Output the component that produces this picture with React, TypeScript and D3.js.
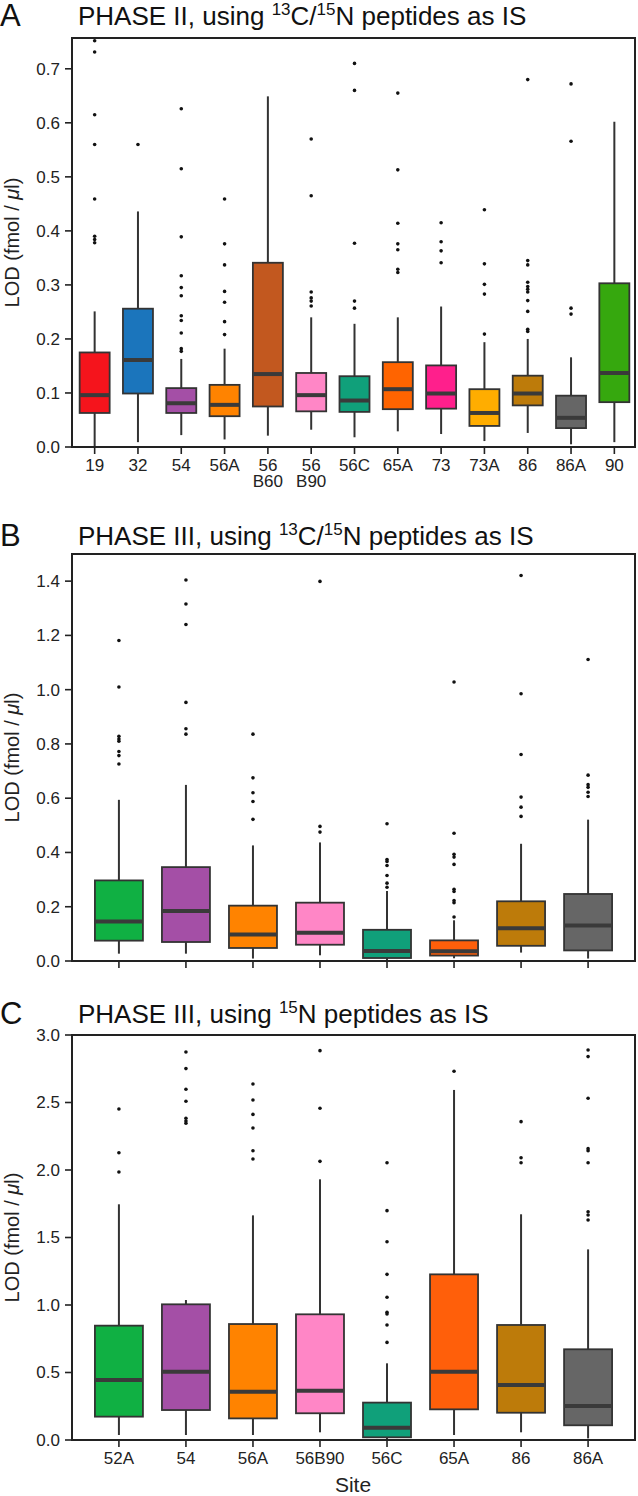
import React from "react";
import * as d3 from "d3";

// ---------- Panel A data ----------
const catsA = ["19", "32", "54", "56A", "56\nB60", "56\nB90", "56C", "65A", "73", "73A", "86", "86A", "90"];
const colorsA = ["#f5141c", "#1b75bc", "#a44fa6", "#ff8300", "#c2581f", "#ff86c6", "#10a07a", "#ff6400", "#ff1f8c", "#ffad00", "#bd7b0a", "#666666", "#36a80e"];
const q1A = [0.063, 0.099, 0.063, 0.057, 0.075, 0.066, 0.065, 0.070, 0.071, 0.039, 0.077, 0.035, 0.083];
const medA = [0.096, 0.161, 0.081, 0.078, 0.135, 0.096, 0.086, 0.107, 0.099, 0.063, 0.099, 0.054, 0.137];
const q3A = [0.175, 0.256, 0.109, 0.115, 0.341, 0.137, 0.131, 0.157, 0.151, 0.107, 0.132, 0.095, 0.303];
const loA = [0.0, 0.009, 0.022, 0.014, 0.021, 0.032, 0.018, 0.029, 0.024, 0.011, 0.026, 0.005, 0.009];
const hiA = [0.251, 0.436, 0.163, 0.182, 0.649, 0.240, 0.228, 0.240, 0.260, 0.194, 0.200, 0.166, 0.602];
const outA = [
  [0.752, 0.731, 0.615, 0.560, 0.459, 0.390, 0.384, 0.378],
  [0.560],
  [0.626, 0.515, 0.389, 0.317, 0.295, 0.280, 0.243, 0.234, 0.211, 0.182, 0.177],
  [0.459, 0.376, 0.337, 0.288, 0.268, 0.232, 0.208],
  [],
  [0.570, 0.465, 0.287, 0.276, 0.270, 0.261],
  [0.710, 0.660, 0.377, 0.270, 0.257],
  [0.655, 0.513, 0.414, 0.376, 0.365, 0.329, 0.323],
  [0.415, 0.380, 0.363, 0.341],
  [0.439, 0.339, 0.301, 0.283, 0.209],
  [0.680, 0.345, 0.337, 0.305, 0.297, 0.292, 0.287, 0.271, 0.251, 0.218, 0.214],
  [0.672, 0.566, 0.257, 0.246],
  [],
];
const ticksA = [0, 0.1, 0.2, 0.3, 0.4, 0.5, 0.6, 0.7];

// ---------- Panels B / C shared ----------
const catsBC = ["52A", "54", "56A", "56B90", "56C", "65A", "86", "86A"];
const colorsBC = ["#10b043", "#a44fa6", "#ff8300", "#ff86c6", "#10a07a", "#ff5f0a", "#bd7b0a", "#666666"];

// ---------- Panel B data ----------
const q1B = [0.075, 0.070, 0.048, 0.060, 0.011, 0.020, 0.056, 0.039];
const medB = [0.146, 0.184, 0.098, 0.104, 0.037, 0.036, 0.121, 0.131];
const q3B = [0.297, 0.346, 0.204, 0.215, 0.115, 0.076, 0.220, 0.247];
const loB = [0.027, 0.027, 0.009, 0.021, 0.0, 0.010, 0.031, 0.009];
const hiB = [0.594, 0.649, 0.426, 0.437, 0.258, 0.150, 0.432, 0.521];
const outB = [
  [1.181, 1.010, 0.828, 0.818, 0.810, 0.772, 0.757, 0.726],
  [1.404, 1.316, 1.240, 0.953, 0.856, 0.836],
  [0.836, 0.675, 0.620, 0.588, 0.522],
  [1.399, 0.496, 0.475],
  [0.506, 0.374, 0.367, 0.352, 0.315, 0.287, 0.272],
  [1.028, 0.471, 0.393, 0.383, 0.356, 0.264, 0.256, 0.223, 0.215, 0.162],
  [1.421, 0.985, 0.761, 0.604, 0.567, 0.533],
  [1.111, 0.685, 0.650, 0.640, 0.622, 0.606],
];
const ticksB = [0, 0.2, 0.4, 0.6, 0.8, 1.0, 1.2, 1.4];

// ---------- Panel C data ----------
const q1C = [0.173, 0.222, 0.160, 0.198, 0.020, 0.227, 0.202, 0.109];
const medC = [0.444, 0.506, 0.358, 0.365, 0.091, 0.506, 0.407, 0.252];
const q3C = [0.847, 1.005, 0.859, 0.931, 0.277, 1.227, 0.852, 0.672];
const loC = [0.037, 0.037, 0.037, 0.057, 0.0, 0.037, 0.057, 0.012];
const hiC = [1.746, 1.037, 1.664, 1.931, 0.568, 2.593, 1.672, 1.412];
const outC = [
  [2.452, 2.128, 1.985],
  [2.874, 2.751, 2.598, 2.509, 2.383, 2.363, 2.346],
  [2.637, 2.519, 2.412, 2.311, 2.143, 2.081],
  [2.884, 2.457, 2.064],
  [2.054, 1.699, 1.469, 1.227, 1.057, 0.946, 0.933, 0.852, 0.723],
  [2.731],
  [2.358, 2.091, 2.054],
  [2.889, 2.840, 2.531, 2.158, 2.143, 2.054, 1.691, 1.667, 1.630],
];
const ticksC = [0, 0.5, 1.0, 1.5, 2.0, 2.5, 3.0];

const FONT = "'Liberation Sans', Arial, Helvetica, sans-serif";
const INK = "#222";

type PanelProps = {
  letter: string;
  titleMain: string;
  titleParts: { sup?: string; text: string }[];
  titleY: number;
  top: number;
  bottom: number;
  yMax: number;
  ticks: number[];
  tickFmt: (v: number) => string;
  cats: string[];
  colors: string[];
  q1: number[];
  med: number[];
  q3: number[];
  lo: number[];
  hi: number[];
  outs: number[][];
  band: boolean;
  boxW: number;
  showLabels: boolean;
};

const LEFT = 72;
const RIGHT = 635;

function Panel(p: PanelProps) {
  const y = d3.scaleLinear().domain([0, p.yMax]).range([p.bottom, p.top]);
  let xc: (c: string) => number;
  if (p.band) {
    const xb = d3.scaleBand<string>().domain(p.cats).range([73, 636]).padding(0);
    xc = (c) => (xb(c) as number) + xb.bandwidth() / 2;
  } else {
    const xp = d3.scalePoint<string>().domain(p.cats).range([LEFT, RIGHT]).padding(0.7);
    xc = (c) => xp(c) as number;
  }
  const midY = (p.top + p.bottom) / 2;
  return (
    <g>
      <text x={0} y={p.titleY + 1} fontSize={31} fontFamily={FONT} fill="#111">{p.letter}</text>
      <text x={78} y={p.titleY} fontSize={26} fontFamily={FONT} fill="#111">
        <tspan>{p.titleMain}</tspan>
        {p.titleParts.map((t, i) => (
          <React.Fragment key={i}>
            {t.sup ? <tspan fontSize={17} dy={-10}>{t.sup}</tspan> : null}
            <tspan dy={t.sup ? 10 : 0}>{t.text}</tspan>
          </React.Fragment>
        ))}
      </text>
      {/* y axis label */}
      <text
        transform={`translate(19,${midY}) rotate(-90)`}
        textAnchor="middle"
        fontSize={20}
        fontFamily={FONT}
        fill={INK}
      >
        LOD (fmol / <tspan fontStyle="italic">μ</tspan>l)
      </text>
      {/* y ticks */}
      {p.ticks.map((t) => (
        <g key={t}>
          <line x1={LEFT - 7} x2={LEFT} y1={y(t)} y2={y(t)} stroke={INK} strokeWidth={1.6} />
          <text x={LEFT - 12} y={y(t)} dy="0.35em" textAnchor="end" fontSize={17} fontFamily={FONT} fill={INK}>
            {p.tickFmt(t)}
          </text>
        </g>
      ))}
      {/* boxes */}
      {p.cats.map((c, i) => {
        const cx = xc(c);
        const w = p.boxW;
        return (
          <g key={c}>
            <line x1={cx} x2={cx} y1={p.bottom} y2={p.bottom + 7} stroke={INK} strokeWidth={1.6} />
            <line x1={cx} x2={cx} y1={y(p.lo[i])} y2={y(p.q1[i])} stroke="#333" strokeWidth={2} />
            <line x1={cx} x2={cx} y1={y(p.q3[i])} y2={y(p.hi[i])} stroke="#333" strokeWidth={2} />
            <rect
              x={cx - w / 2}
              width={w}
              y={y(p.q3[i])}
              height={y(p.q1[i]) - y(p.q3[i])}
              fill={p.colors[i]}
              stroke="#333"
              strokeWidth={1.8}
            />
            <line x1={cx - w / 2} x2={cx + w / 2} y1={y(p.med[i])} y2={y(p.med[i])} stroke="#3a3a3a" strokeWidth={4} />
            {p.outs[i].map((v, j) => (
              <circle key={j} cx={cx} cy={y(v)} r={1.8} fill="#111" />
            ))}
            {p.showLabels
              ? c.split("\n").map((ln, k) => (
                  <text key={k} x={cx} y={p.bottom + 24 + k * 16} textAnchor="middle" fontSize={17} fontFamily={FONT} fill={INK}>
                    {ln}
                  </text>
                ))
              : null}
          </g>
        );
      })}
      {/* frame */}
      <rect x={LEFT} y={p.top} width={RIGHT - LEFT} height={p.bottom - p.top} fill="none" stroke={INK} strokeWidth={2} />
    </g>
  );
}

export default function App() {
  const f1 = d3.format(".1f");
  return (
    <svg
      width={638}
      height={1496}
      viewBox="0 0 638 1496"
      style={{ position: "absolute", left: 0, top: 0, background: "#fff" }}
    >
      <rect x={0} y={0} width={638} height={1496} fill="#fff" />
      <Panel
        letter="A"
        titleMain="PHASE II, using "
        titleParts={[{ sup: "13", text: "C/" }, { sup: "15", text: "N peptides as IS" }]}
        titleY={25}
        top={38}
        bottom={447}
        yMax={0.757}
        ticks={ticksA}
        tickFmt={f1}
        cats={catsA}
        colors={colorsA}
        q1={q1A}
        med={medA}
        q3={q3A}
        lo={loA}
        hi={hiA}
        outs={outA}
        band={true}
        boxW={30}
        showLabels={true}
      />
      <Panel
        letter="B"
        titleMain="PHASE III, using "
        titleParts={[{ sup: "13", text: "C/" }, { sup: "15", text: "N peptides as IS" }]}
        titleY={545}
        top={554}
        bottom={961}
        yMax={1.5}
        ticks={ticksB}
        tickFmt={f1}
        cats={catsBC}
        colors={colorsBC}
        q1={q1B}
        med={medB}
        q3={q3B}
        lo={loB}
        hi={hiB}
        outs={outB}
        band={false}
        boxW={48}
        showLabels={false}
      />
      <Panel
        letter="C"
        titleMain="PHASE III, using "
        titleParts={[{ sup: "15", text: "N peptides as IS" }]}
        titleY={1023}
        top={1035}
        bottom={1440}
        yMax={3.0}
        ticks={ticksC}
        tickFmt={f1}
        cats={catsBC}
        colors={colorsBC}
        q1={q1C}
        med={medC}
        q3={q3C}
        lo={loC}
        hi={hiC}
        outs={outC}
        band={false}
        boxW={48}
        showLabels={true}
      />
      <text x={353} y={1492} textAnchor="middle" fontSize={21} fontFamily={FONT} fill={INK}>
        Site
      </text>
    </svg>
  );
}
